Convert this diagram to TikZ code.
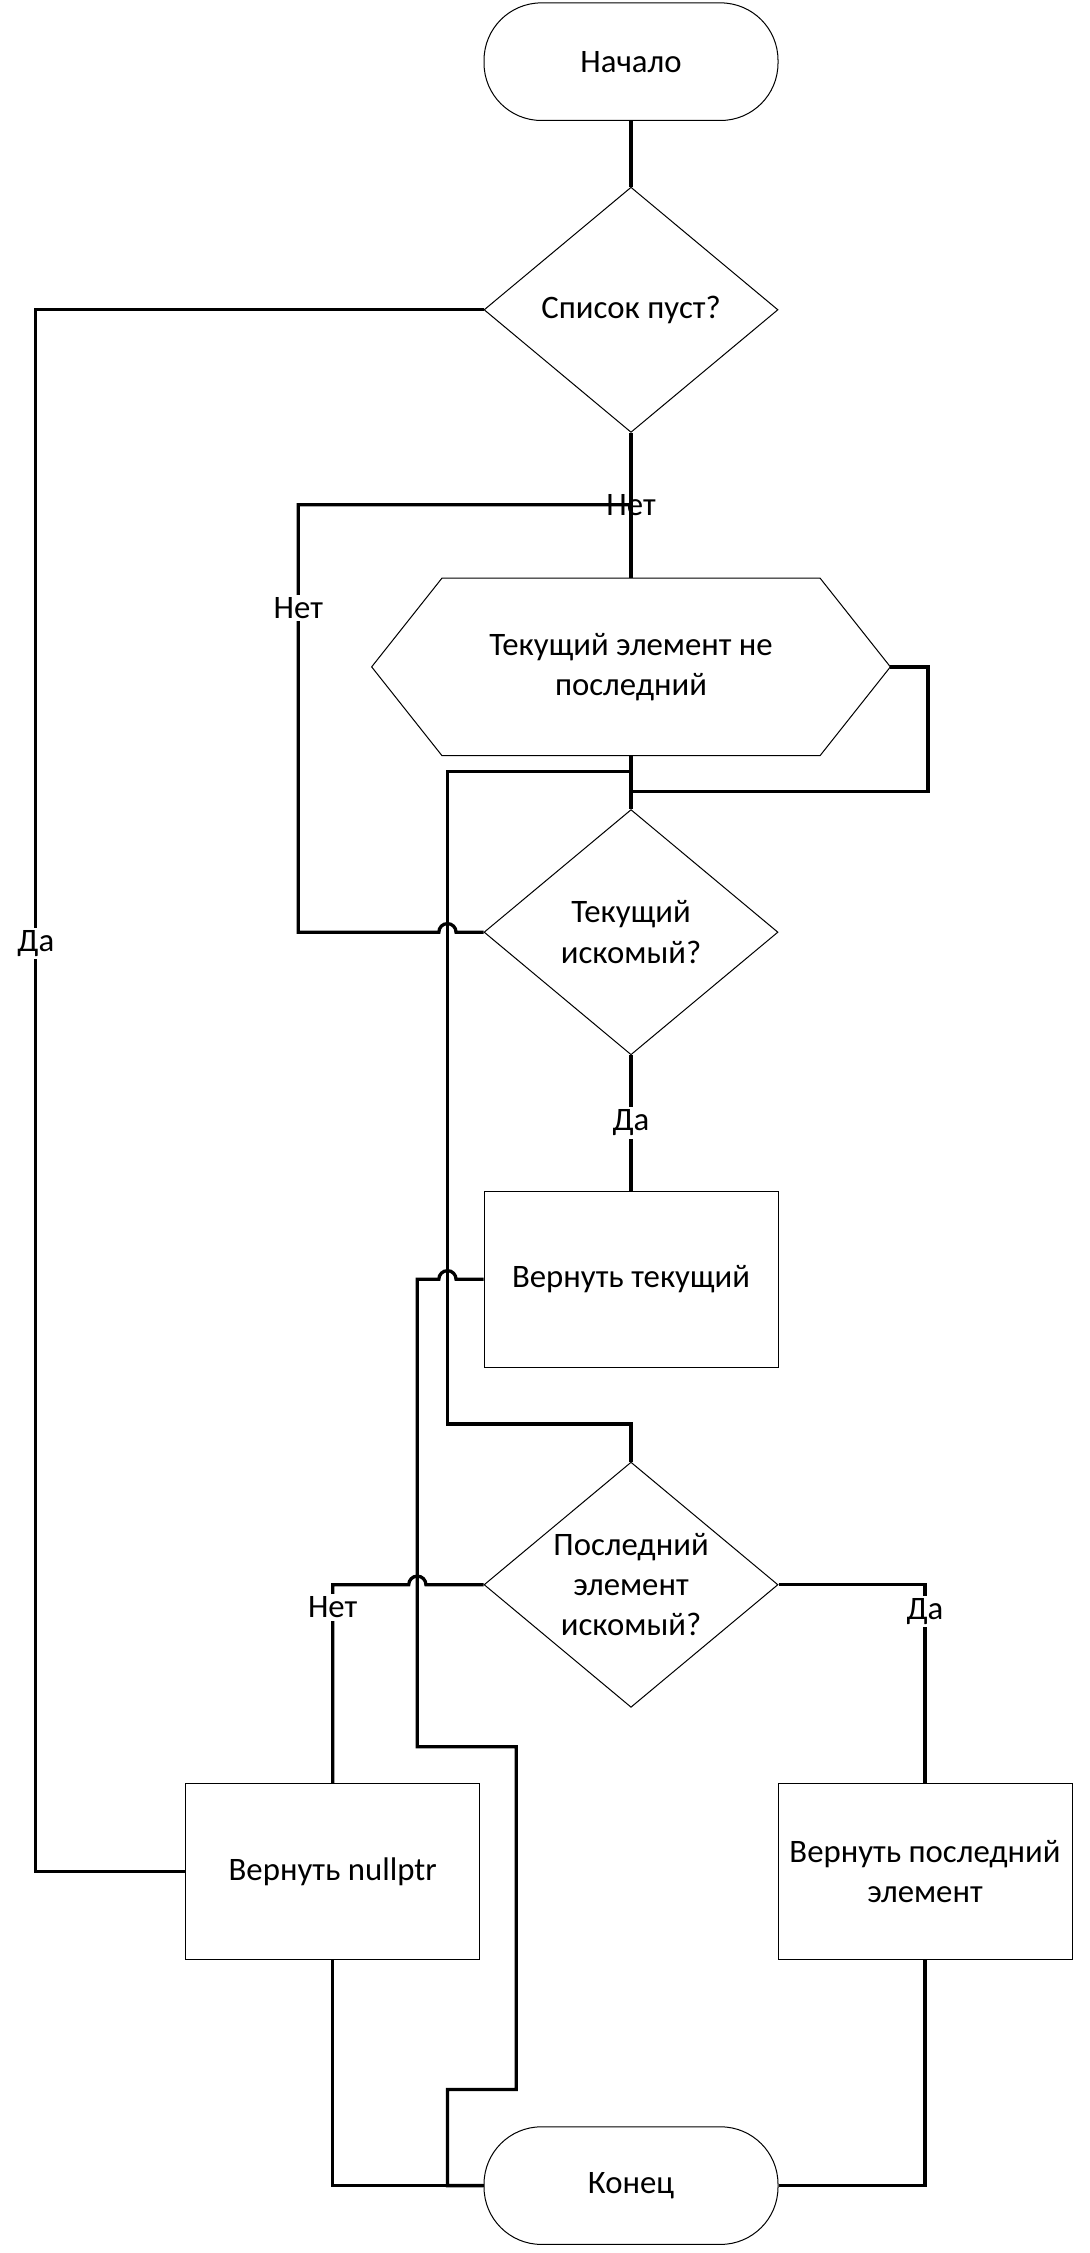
\documentclass[tikz,border=0pt]{standalone}
\usepackage{fontspec}
\setmainfont{Carlito}
\usepackage{tikz}
\usetikzlibrary{
    shapes.geometric,
    calc,
    positioning
}

\begin{document}
\begin{tikzpicture}[
        font=\fontsize{13}{16}\selectfont,
        term/.style={draw, rectangle, rounded corners=0.8cm, minimum width=4.1cm, minimum height=1.64cm, line width=0.4pt},
        cond/.style={draw, diamond, aspect=1.2, minimum width=4.1cm, minimum height=3.42cm, inner sep=0pt, align=center, line width=0.4pt},
        act/.style={draw, rectangle, minimum width=4.1cm, minimum height=2.46cm, align=center, line width=0.4pt},
        wire/.style={line width=1.3pt},
        lbl/.style={fill=white, inner sep=1pt}
    ]
    \useasboundingbox (0, 0) rectangle (15.2, -31.42);

    \node[term] (start) at (8.8, -0.86) {Начало};
    \node[cond] (empty) at (8.8, -4.32) {Список пуст?};
    \node[act, draw=none, minimum width=7.22cm] (loop) at (8.8, -9.3) {Текущий элемент не\\последний};
    \draw[line width=0.4pt] ($(loop.north west)+(0.98, 0)$) -- ($(loop.north east)+(-0.98, 0)$) -- (loop.east)
        -- ($(loop.south east)+(-0.98, 0)$) -- ($(loop.south west)+(0.98, 0)$) -- (loop.west) -- cycle;
    \node[cond] (found) at (8.8, -13) {Текущий\\искомый?};
    \node[act] (retcur) at (8.8, -17.84) {Вернуть текущий};
    \node[cond] (islast) at (8.8, -22.1) {Последний\\элемент\\искомый?};
    \node[act] (retnull) at (4.64, -26.1) {Вернуть nullptr};
    \node[act] (retlast) at (12.9, -26.1) {Вернуть последний\\элемент};
    \node[term] (stop) at (8.8, -30.48) {Конец};

    \coordinate (nojoin) at (8.8, -7.04);
    \coordinate (exitjoin) at (8.8, -10.76);
    \coordinate (endjoin) at (8.8, -11.04);

    \draw[wire] (start) -- (empty);
    \draw[wire] (empty.west) -- (0.5, -4.32) -- node[lbl, pos=0.406] {Да} (0.5, -26.1) -- (retnull.west);
    \draw[wire] (empty.south) -- node[midway] {Нет} (loop.north);
    \draw[wire] (found.west) -- (6.36, -13) arc[start angle=0, end angle=180, radius=0.12]
        -- (4.16, -13) -- node[lbl, pos=0.758] {Нет} (4.16, -7.04) -- (nojoin);
    \draw[wire] (loop.south) -- (found.north);
    \draw[wire] (loop.east) -- (12.94, -9.3) |- (endjoin);
    \draw[wire] (exitjoin) -- (6.24, -10.76) -- (6.24, -19.86) -| (islast.north);
    \draw[wire] (found.south) -- node[lbl] {Да} (retcur.north);
    \draw[wire] (retcur.west) -- (6.36, -17.84) arc[start angle=0, end angle=180, radius=0.12]
        -- (5.82, -17.84) -- (5.82, -24.36) -- (7.2, -24.36) -- (7.2, -29.14) -- (6.24, -29.14) -- (6.24, -30.48) -- (stop.west);
    \draw[wire] (islast.west) -- (5.94, -22.1) arc[start angle=0, end angle=180, radius=0.12]
        -- (4.64, -22.1) -- node[lbl, pos=0.115] {Нет} (retnull.north);
    \draw[wire] (islast.east) -| node[lbl, pos=0.568] {Да} (retlast.north);
    \draw[wire] (retnull.south) |- (stop.west);
    \draw[wire] (retlast.south) |- (stop.east);
\end{tikzpicture}
\end{document}
